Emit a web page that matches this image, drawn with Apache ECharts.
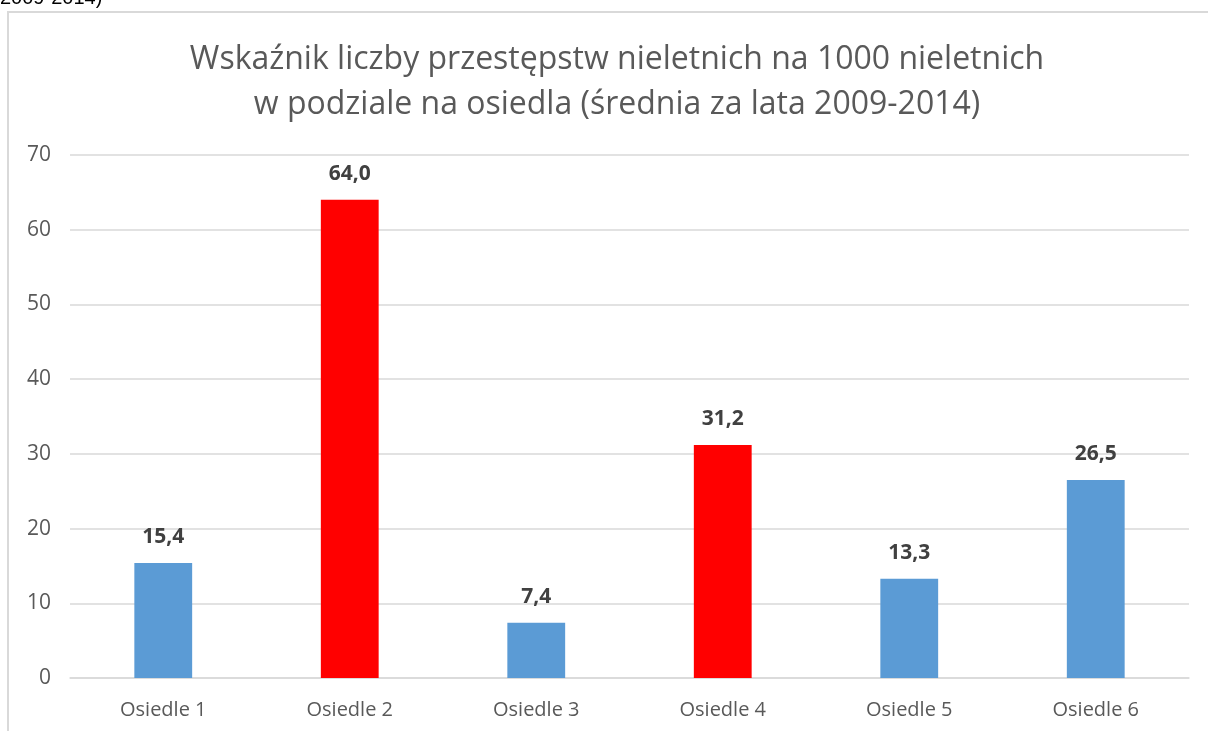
<!DOCTYPE html>
<html>
<head>
<meta charset="utf-8">
<script src="https://cdn.jsdelivr.net/npm/echarts@6/dist/echarts.min.js"></script>
<style>
  html, body { margin: 0; padding: 0; background: #fff; }
  #chart { width: 1208px; height: 731px; }
</style>
</head>
<body>
<div id="chart"></div>
<script>
// dane
const categories = ['Osiedle 1', 'Osiedle 2', 'Osiedle 3', 'Osiedle 4', 'Osiedle 5', 'Osiedle 6']
const values = [15.4, 64.0, 7.4, 31.2, 13.3, 26.5]
const highlighted = [false, true, false, true, false, false]

const chart = echarts.init(document.getElementById('chart'))

const option = {
  animation: false,
  title: {
    text: 'Wskaźnik liczby przestępstw nieletnich na 1000 nieletnich\nw podziale na osiedla (średnia za lata 2009-2014)',
    left: 612,
    textAlign: 'center',
    top: 32,
    textStyle: {
      color: '#595959',
      fontFamily: 'Open Sans',
      fontWeight: 'normal',
      fontSize: 32,
      lineHeight: 45
    }
  },
  graphic: [
    {
      type: 'rect',
      shape: { x: 8, y: 12, width: 1300, height: 800 },
      style: { fill: 'none', stroke: '#d9d9d9', lineWidth: 2 }
    },
    {
      type: 'text',
      left: 0,
      top: -12,
      style: { text: '2009-2014)', fill: '#000', font: '20px "Liberation Sans"' }
    }
  ],
  grid: {
    left: 70,
    right: 19,
    top: 155,
    bottom: 53
  },
  xAxis: {
    type: 'category',
    data: categories,
    axisLine: { lineStyle: { color: '#d9d9d9', width: 1.5 } },
    axisTick: { show: false },
    axisLabel: {
      color: '#595959',
      fontFamily: 'Open Sans',
      fontSize: 20,
      margin: 22
    }
  },
  yAxis: {
    type: 'value',
    min: 0,
    max: 70,
    interval: 10,
    axisLine: { show: false },
    axisTick: { show: false },
    axisLabel: {
      color: '#595959',
      fontFamily: 'Open Sans',
      fontSize: 21,
      margin: 19
    },
    splitLine: { lineStyle: { color: '#d9d9d9', width: 1.5 } }
  },
  series: [
    {
      type: 'bar',
      barWidth: '31%',
      data: values.map((v, i) => ({
        value: v,
        itemStyle: { color: highlighted[i] ? '#ff0000' : '#5b9bd5' }
      })),
      label: {
        show: true,
        position: 'top',
        distance: 15,
        color: '#404040',
        fontFamily: 'Open Sans',
        fontWeight: 'bold',
        fontSize: 21,
        formatter: p => p.value.toFixed(1).replace('.', ',')
      }
    }
  ]
}

chart.setOption(option)
</script>
</body>
</html>
